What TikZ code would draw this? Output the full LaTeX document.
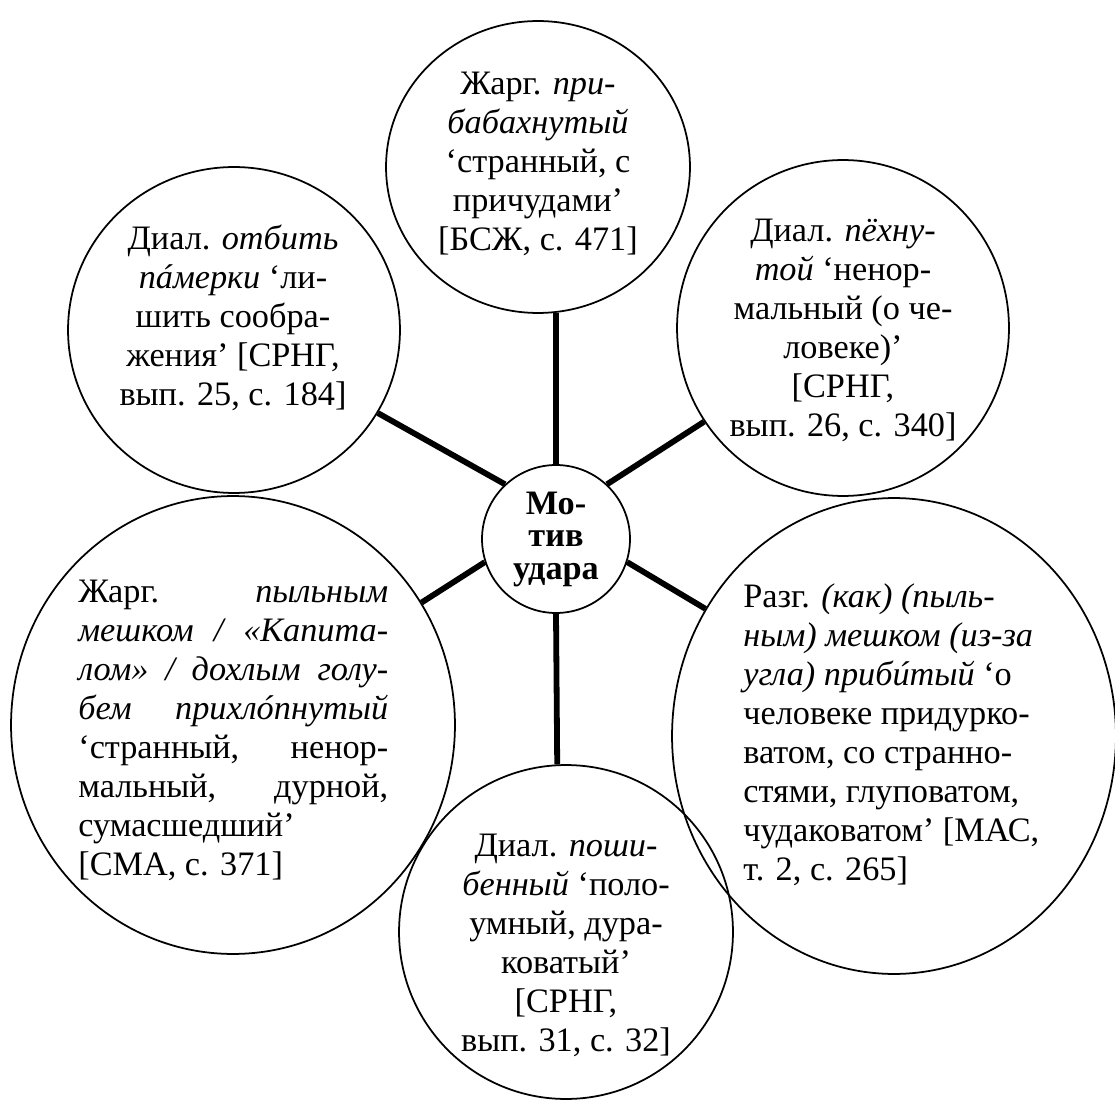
\documentclass[tikz,border=0pt]{standalone}
\usepackage{fontspec}
\setmainfont{Liberation Serif}
\usetikzlibrary{shapes.geometric}
\newcommand\jline[1]{\makebox[6.2cm][s]{#1}}
\newcommand\acc[1]{\ooalign{#1\cr\hidewidth\kern0.12em ´\hidewidth\cr}}
\begin{document}
\begin{tikzpicture}[x=0.02cm, y=-0.02cm,
  oval/.style={draw, ellipse, line width=1pt, inner sep=0pt},
  link/.style={line width=3.3pt},
  txt/.style={font=\fontsize{19.5}{22.2}\selectfont, inner sep=0pt}]
\useasboundingbox (0,0) rectangle (1115,1101);
%centre:
\node[oval, minimum size=2.96cm, font=\fontsize{19.5}{18.5}\selectfont\bfseries, align=center] (hub) at (556,539) {Мо-\\тив\\удара};
%circles:
\node[oval, minimum width=6.08cm, minimum height=5.84cm] (top) at (538,167) {};
\node[oval, minimum width=6.64cm, minimum height=6.52cm] (tl) at (234,330) {};
\node[oval, minimum width=6.64cm, minimum height=6.72cm] (tr) at (843,328) {};
\node[oval, minimum width=8.88cm, minimum height=9.16cm] (bl) at (233,725) {};
\node[oval, minimum width=8.88cm, minimum height=9.52cm] (br) at (894,736) {};
\node[oval, minimum width=6.68cm, minimum height=6.68cm] (bot) at (566,932) {};
%links:
\draw[link] (hub.90) -- (top.-83);
\draw[link] (hub.133) -- (tl.-30);
\draw[link] (hub.47) -- (tr.214);
\draw[link] (hub.198) -- (bl.33);
\draw[link] (hub.-18) -- (br.146);
\draw[link] (hub.-90) -- (bot.93);
%texts:
\node[txt, align=center] (toptxt) at (538,164) {Жарг. \textit{при-}\\\textit{бабахнутый}\\‘странный, с\\причудами’\\{[}БСЖ, с. 471{]}};
\node[txt, align=center] (tltxt) at (233,318) {Диал. \textit{отбить}\\\textit{п\acc{а}мерки} ‘ли-\\шить сообра-\\жения’ {[}СРНГ,\\вып. 25, с. 184{]}};
\node[txt, align=center] (trtxt) at (843,330) {Диал. \textit{пёхну-}\\\textit{той} ‘ненор-\\мальный (о че-\\ловеке)’\\{[}СРНГ,\\вып. 26, с. 340{]}};
\node[txt, align=left, anchor=west] (bltxt) at (78,730) {\jline{Жарг. \textit{пыльным}}\\\jline{\textit{мешком / «Капита-}}\\\jline{\textit{лом» / дохлым голу-}}\\\jline{\textit{бем прихл\acc{о}пнутый}}\\\jline{‘странный, ненор-}\\\jline{мальный, дурной,}\\сумасшедший’\\{[}СМА, с. 371{]}};
\node[txt, align=left, anchor=west] (brtxt) at (743,735) {Разг. \textit{(как) (пыль-}\\\textit{ным) мешком (из-за}\\\textit{угла) приб\acc{и}тый} ‘о\\человеке придурко-\\ватом, со странно-\\стями, глуповатом,\\чудаковатом’ {[}МАС,\\т. 2, с. 265{]}};
\node[txt, align=center] (bottxt) at (566,945) {Диал. \textit{поши-}\\\textit{бенный} ‘поло-\\умный, дура-\\коватый’\\{[}СРНГ,\\вып. 31, с. 32{]}};
\end{tikzpicture}
\end{document}
